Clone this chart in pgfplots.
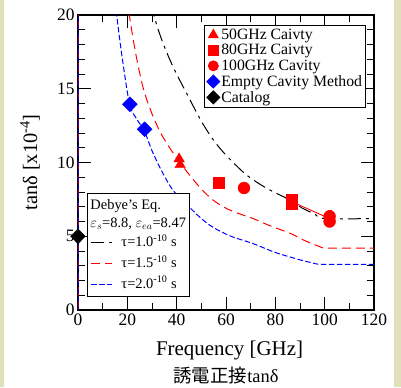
\documentclass[border=0pt]{standalone}
\usepackage{pgfplots}
\pgfplotsset{compat=1.18}
\usepackage{fontspec}
\setmainfont{Liberation Serif}
\newfontfamily\cjk{Noto Sans CJK JP}
\definecolor{bgbeige}{RGB}{224,224,186}
\tikzset{
  tauA/.style={draw=black, line width=1pt, dash pattern=on 13bp off 5bp on 3bp off 5bp},
  tauB/.style={draw=red, line width=1pt, dash pattern=on 9bp off 5bp},
  tauC/.style={draw=blue, line width=1pt, dash pattern=on 5.5bp off 2.5bp},
}
\begin{document}
\begin{tikzpicture}
\fill[bgbeige] (-78bp,-77bp) rectangle (323bp,310bp);
\fill[white] (-74bp,-77bp) rectangle (316bp,310bp);
% main axis: ticks, labels, Debye curves
\begin{axis}[
  scale only axis, width=296bp, height=295bp,
  xmin=0, xmax=120, ymin=0, ymax=20,
  xtick={0,20,...,120}, ytick={0,5,...,20},
  minor x tick num=1, minor y tick num=4,
  tick align=inside,
  major tick length=13bp, minor tick length=7bp,
  every tick/.style={black, line width=0.9pt},
  axis line style={line width=1.2pt},
  /pgf/number format/assume math mode=true,
  ticklabel style={font=\fontsize{17.5}{17.5}\selectfont},
  xlabel={Frequency [GHz]},
  xlabel style={font=\fontsize{21}{21}\selectfont, at={(axis description cs:0.512,-0.1356)}, anchor=center},
  ylabel={tanδ [x10\textsuperscript{-4}]},
  ylabel style={font=\fontsize{20.5}{20.5}\selectfont, at={(axis description cs:-0.162,0.5)}, anchor=center},
]
% near-zero spikes
\addplot[tauB] coordinates {(0,0) (0.15,30)};
\addplot[tauC] coordinates {(0,0) (0.12,30)};
% tau = 1.0
\addplot[tauA, smooth] coordinates {
 (28,22.5) (30.8,20) (34,18.3) (38.5,16.5) (44,14.7) (50,12.8) (55,11.5) (60,10.5)
 (68,9.2) (76,8.3) (85.8,7.46) (91,6.9) (96,6.5) (100,6.2) (120,6.2)};
% tau = 1.5
\addplot[tauB, smooth] coordinates {
 (18.5,23) (20.8,20) (23.5,17.3) (26.5,15) (30,13.3) (33.2,12.1) (36,11.3) (40,10.3)
 (45,9.2) (50,8.2) (54.7,7.46) (60,6.9) (65,6.55) (71,6.2) (78,5.7) (86,5.2)
 (92,4.7) (98,4.3) (101,4.2) (120,4.2)};
% tau = 2.0
\addplot[tauC, smooth] coordinates {
 (13.5,23.5) (15.7,20) (18,17) (21,13.9) (24,12.9) (27,12.1) (30,10.8) (34,9.4)
 (38.6,8.1) (45,7.0) (50,6.2) (54.8,5.6) (62,5.0) (71,4.5) (80,3.9) (90,3.4)
 (95,3.2) (99,3.1) (120,3.1)};
\node[draw=black, line width=0.9pt, fill=white, anchor=south west, inner sep=3bp,
  font=\fontsize{14.5}{18}\selectfont] at (rel axis cs:0.0304,0.044) {%
  \begin{tabular}{@{}l@{}}
  Debye's Eq.\\
  $\varepsilon_s$=8.8, $\varepsilon_{ea}$=8.47\\[1pt]
  \hspace*{31bp}τ=1.0\textsuperscript{-10} s\\[3pt]
  \hspace*{31bp}τ=1.5\textsuperscript{-10} s\\[3pt]
  \hspace*{31bp}τ=2.0\textsuperscript{-10} s
  \end{tabular}};
\end{axis}
% legend samples for the Debye box
\draw[color=black, line width=1.2pt, dash pattern=on 13bp off 5bp on 3bp off 5bp] (13bp,67.5bp) -- ++(21bp,0);
\draw[color=red, line width=1.3pt, dash pattern=on 9bp off 5bp] (13bp,46.5bp) -- ++(21bp,0);
\draw[color=blue, line width=1.2pt, dash pattern=on 5.5bp off 2.5bp] (13bp,25.5bp) -- ++(21bp,0);
% overlay axis: measured points and their legend
\begin{axis}[
  scale only axis, width=296bp, height=295bp,
  xmin=0, xmax=120, ymin=0, ymax=20,
  ticks=none, axis line style={draw=none},
  clip mode=individual,
  legend cell align=left,
  legend image code/.code={\draw[mark repeat=2,mark phase=2,#1] plot coordinates {(0bp,0bp) (16bp,0bp) (32bp,0bp)};},
  legend style={at={(axis description cs:0.973,0.966)}, anchor=north east,
    draw=black, line width=0.9pt, fill=white,
    font=\fontsize{15.8}{15.8}\selectfont, inner sep=2pt, row sep=0.5pt,
    nodes={inner sep=1.5pt}},
]
\addlegendimage{only marks, red, mark=triangle*, mark size=5.5pt}
\addlegendentry{50GHz Caivty}
\addlegendimage{only marks, red, mark=square*, mark size=4.8pt}
\addlegendentry{80GHz Caivty}
\addlegendimage{only marks, red, mark=*, mark size=5pt}
\addlegendentry{100GHz Cavity}
\addlegendimage{only marks, blue, mark=diamond*, mark size=6.5pt, mark options={xscale=1.33}}
\addlegendentry{Empty Cavity Method}
\addlegendimage{only marks, black, mark=diamond*, mark size=6.5pt, mark options={xscale=1.33}}
\addlegendentry{Catalog}
\addplot[red, line width=0.9pt, mark=none, forget plot, error bars/.cd, y dir=both, y explicit] coordinates {(102,6.2) +- (0,0.55) (86.5,7.35) +- (0,0.35)};
\addplot[only marks, red, mark=triangle*, mark size=6pt, forget plot] coordinates {(41,10.25) (41.4,9.85)};
\addplot[only marks, red, mark=square*, mark size=5.5pt, forget plot] coordinates {(57,8.6) (86.5,7.5) (86.5,7.2)};
\addplot[only marks, red, mark=*, mark size=6pt, forget plot] coordinates {(67.3,8.27) (102,6.35) (102,6.0)};
\addplot[only marks, blue, mark=diamond*, mark size=7.5pt, mark options={xscale=1.33}, forget plot] coordinates {(21,13.95) (27,12.25)};
\addplot[only marks, black, mark=diamond*, mark size=7.5pt, mark options={xscale=1.33}, forget plot] coordinates {(0,5.0)};
\end{axis}
\node at (148bp,-66bp) {\fontsize{18.5}{18.5}\selectfont{\cjk 誘電正接}tanδ};
\end{tikzpicture}
\end{document}
